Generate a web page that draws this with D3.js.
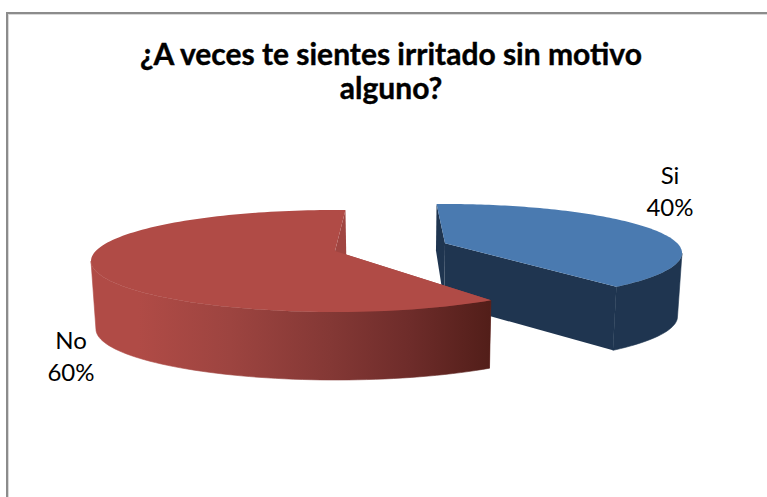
<!DOCTYPE html>
<html>
<head>
<meta charset="utf-8">
<script src="https://cdn.jsdelivr.net/npm/d3@7"></script>
<style>html,body{margin:0;padding:0;background:#fff}svg{display:block}text{font-family:Lato,"Open Sans",sans-serif;fill:#000}</style>
</head>
<body>
<svg id="c" width="767" height="497"></svg>
<script>
const titleLines = ["¿A veces te sientes irritado sin motivo", "alguno?"];
const categories = ["Si", "No"];
const values = [40, 60];
const labels = ["40%", "60%"];

const svg = d3.select("#c");
const deg = Math.PI / 180;

// layout of each exploded slice in its perspective view
const views = {
  Si: {cx: 445, cy: 253, A: 237, B: 49, boost: -0.2, rot: -2.5, thick: 63.5, label: [670, 184, 216]},
  No: {cx: 335, cy: 261, A: 244, B: 51, boost: -0.196, rot: 3, thick: 68, label: [71, 349, 381]}
};
const vanishX = 400, shrink = 0.984, backLoss = 17;

function project(v, theta, r) {
  const a = theta + v.rot * deg;
  const x0 = r * Math.sin(a), y0 = -r * Math.cos(a);
  const b = v.boost, d = 1 + b * y0;
  const X = x0 * Math.sqrt(1 - b * b) / d, Y = (y0 + b) / d;
  return {x: v.cx + v.A * X, y: v.cy + v.B * Y, Y};
}
function topPt(v, theta, r = 1) { const p = project(v, theta, r); return [p.x, p.y]; }
function botPt(v, theta, r = 1) {
  const p = project(v, theta, r);
  const t = v.thick + backLoss * Math.min(p.Y, 0);
  return [vanishX + (p.x - vanishX) * shrink, p.y + t];
}
const line = d3.line();
const rim = (v, a0, a1, fn) => d3.range(0, 121).map(i => fn(v, a0 + (a1 - a0) * i / 120));

const defs = svg.append("defs");
const grad = defs.append("linearGradient").attr("id", "wallNo")
  .attr("gradientUnits", "userSpaceOnUse").attr("x1", 90).attr("x2", 490).attr("y1", 0).attr("y2", 0);
[[0, "#b04b46"], [0.12, "#b04b46"], [0.35, "#9d4440"], [0.6, "#843835"], [0.8, "#6e2c2a"], [1, "#521e19"]]
  .forEach(s => grad.append("stop").attr("offset", s[0]).attr("stop-color", s[1]));

// frame: top and left rules
svg.append("rect").attr("x", 6).attr("y", 14).attr("width", 761).attr("height", 1).attr("fill", "#d9d9d9");
svg.append("rect").attr("x", 8).attr("y", 14).attr("width", 1).attr("height", 483).attr("fill", "#d9d9d9");
svg.append("rect").attr("x", 6).attr("y", 12).attr("width", 761).attr("height", 2).attr("fill", "#8c8c8c");
svg.append("rect").attr("x", 6).attr("y", 12).attr("width", 2).attr("height", 485).attr("fill", "#8c8c8c");

svg.selectAll("text.title").data(titleLines).join("text").attr("class", "title")
  .attr("x", 391).attr("y", (d, i) => 65 + i * 34)
  .attr("text-anchor", "middle").attr("font-size", 30).attr("font-weight", 700)
  .attr("stroke", "#000").attr("stroke-width", 0.4).text(d => d);

const arcs = d3.pie().sort(null).value(d => d)(values);
const styles = {
  Si: {top: "#4a7ab0", inner: "#1f3550", outer: "#1f3550"},
  No: {top: "#b04b46", inner: "#a04541", outer: "url(#wallNo)"}
};

arcs.forEach((arc, i) => {
  const name = categories[i], v = views[name], st = styles[name];
  const a0 = arc.startAngle, a1 = arc.endAngle;
  const apexT = topPt(v, 0, 0), apexB = botPt(v, 0, 0);
  const g = svg.append("g").attr("class", "slice-" + name);
  // cut faces
  [a0, a1].forEach(a => {
    g.append("path").attr("fill", st.inner)
      .attr("d", line([apexT, topPt(v, a), botPt(v, a), apexB]) + "Z");
  });
  // outer wall: only the stretch of rim between the side extremes faces the viewer
  const rimT = rim(v, a0, a1, topPt), rimB = rim(v, a0, a1, botPt);
  const xs = rimT.map(p => p[0]);
  const start = d3.maxIndex(xs), minI = d3.minIndex(xs);
  const end = minI > start ? minI + 1 : xs.length;
  const wall = rimT.slice(start, end).concat(rimB.slice(start, end).reverse());
  g.append("path").attr("fill", st.outer).attr("stroke", st.outer).attr("stroke-width", 0.6)
    .attr("d", line(wall) + "Z");
  // top face
  g.append("path").attr("fill", st.top).attr("d", line([apexT].concat(rimT)) + "Z");
  // label
  g.selectAll("text").data([name, labels[i]]).join("text")
    .attr("x", v.label[0]).attr("y", (d, j) => v.label[j + 1])
    .attr("text-anchor", "middle").attr("font-size", 24).text(d => d);
});
</script>
</body>
</html>
